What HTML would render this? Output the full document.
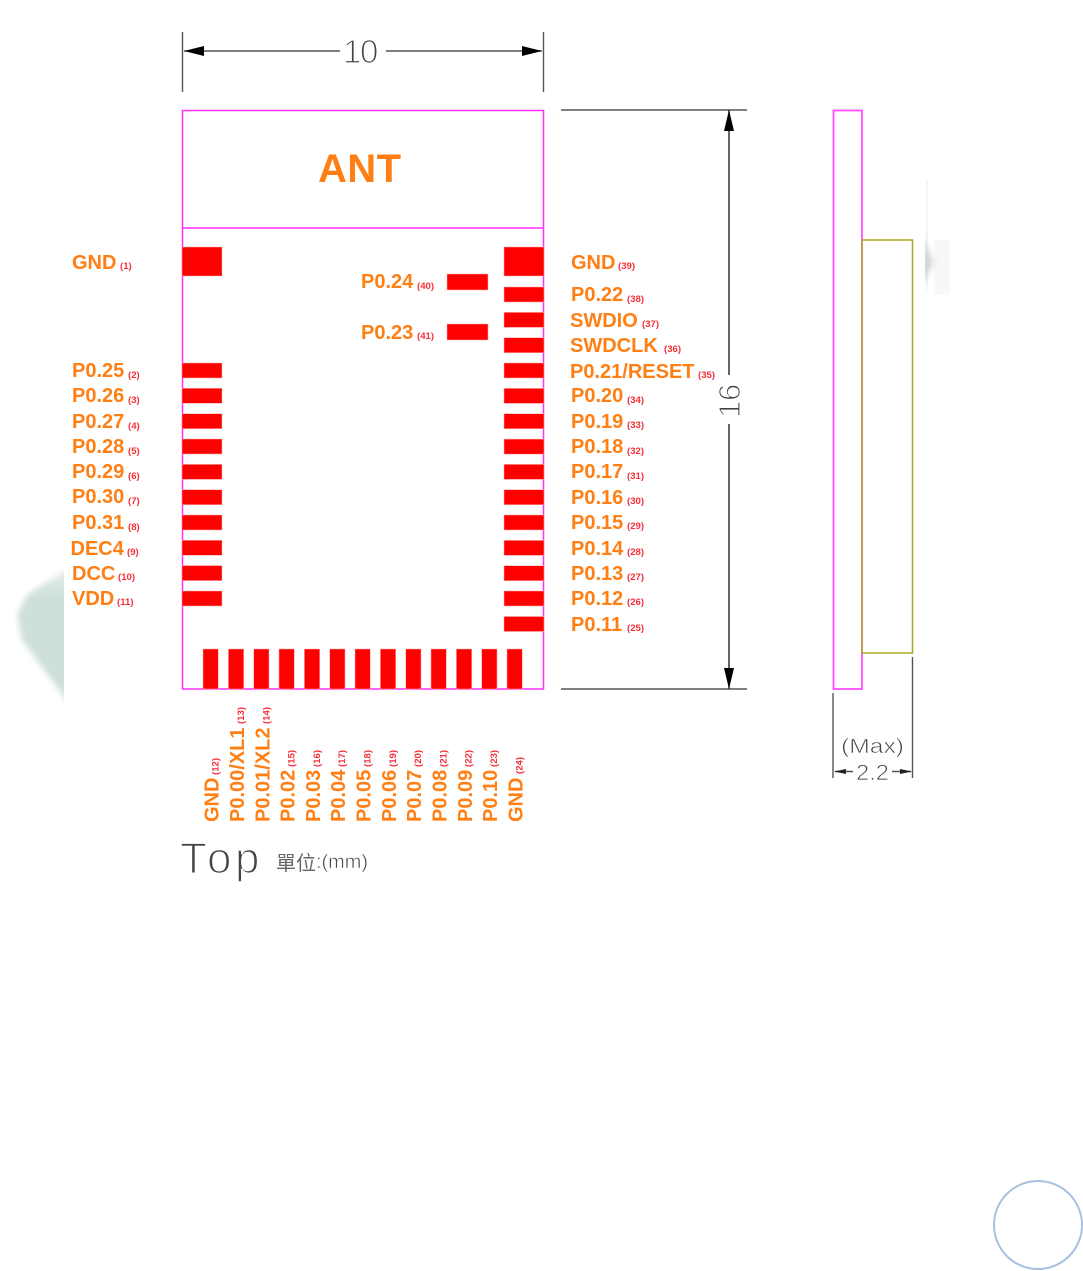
<!DOCTYPE html>
<html><head><meta charset="utf-8"><style>
html,body{margin:0;padding:0;background:#fff}
svg{display:block;filter:blur(.35px)}
.m{font:bold 20px "Liberation Sans",sans-serif;fill:#ff7f14}
.s{font:bold 9.6px "Liberation Sans",sans-serif;fill:#f5303a}
.t{font-family:"Liberation Sans",sans-serif;fill:#444;stroke:#fff;paint-order:normal}
.p{fill:#f00;stroke:#ffb0b0;stroke-width:.5}
.l{stroke:#555;stroke-width:1.4;fill:none}
</style></head><body>
<svg width="1083" height="1271" viewBox="0 0 1083 1271" xmlns="http://www.w3.org/2000/svg">
<defs><filter id="b" x="-30%" y="-30%" width="160%" height="160%"><feGaussianBlur stdDeviation="3"/></filter>
<linearGradient id="g1" x1="0" y1="0" x2="0" y2="1"><stop offset="0" stop-color="#e6efec"/><stop offset=".2" stop-color="#cfe0da"/><stop offset="1" stop-color="#cfe0da"/></linearGradient>
<clipPath id="c1"><rect x="0" y="540" width="64" height="200"/></clipPath>
<clipPath id="c2"><rect x="925" y="170" width="40" height="150"/></clipPath></defs>
<g clip-path="url(#c1)"><polygon points="70,568 28,594 17,615 22,640 50,678 70,705" fill="url(#g1)" filter="url(#b)"/></g>
<g clip-path="url(#c2)"><rect x="926" y="180" width="2" height="110" fill="#f6f6f6"/><rect x="934" y="240" width="16" height="55" fill="#f8f8f8"/><polygon points="920,232 934,262 920,290" fill="#d6d6d6" filter="url(#b)"/></g>

<!-- dimension lines -->
<path class="l" d="M182.500 32V92M543.500 32V92M184 51H340M386 51H542M561 110H747M561 689H747"/>
<path d="M729 110V375M729 424V689" stroke="#222" stroke-width="1.4" fill="none"/>
<path d="M184 51L204 46V56ZM542 51L522 46V56ZM729 110L724 131H734ZM729 689L724 668H734Z" fill="#000"/>
<path class="l" d="M833 693V778M912.500 657V778M835 771.500H853M892 771.500H911"/>
<path d="M834 771.500L846 769V774ZM912 771.500L900 769V774Z" fill="#222"/>

<!-- module outlines -->
<rect x="182.500" y="110.500" width="361" height="578.500" fill="none" stroke="#ff30ff" stroke-width="1.500"/>
<path d="M182 228H544" stroke="#ff30ff" stroke-width="1.500"/>
<rect x="833.500" y="110.500" width="28.500" height="578.500" fill="none" stroke="#ff44ff" stroke-width="1.700"/>
<rect x="862" y="240" width="50.500" height="413" fill="none" stroke="#aca820" stroke-width="1.500"/>

<!-- left pads -->
<rect class="p" x="182" y="247" width="40" height="29"/>
<rect class="p" x="182" y="363" width="40" height="15"/>
<rect class="p" x="182" y="388.300" width="40" height="15"/>
<rect class="p" x="182" y="413.700" width="40" height="15"/>
<rect class="p" x="182" y="439" width="40" height="15"/>
<rect class="p" x="182" y="464.400" width="40" height="15"/>
<rect class="p" x="182" y="489.700" width="40" height="15"/>
<rect class="p" x="182" y="515" width="40" height="15"/>
<rect class="p" x="182" y="540.300" width="40" height="15"/>
<rect class="p" x="182" y="565.600" width="40" height="15"/>
<rect class="p" x="182" y="591" width="40" height="15"/>
<!-- right pads -->
<rect class="p" x="504" y="247" width="40" height="29"/>
<rect class="p" x="504" y="287" width="40" height="15"/>
<rect class="p" x="504" y="312.400" width="40" height="15"/>
<rect class="p" x="504" y="337.700" width="40" height="15"/>
<rect class="p" x="504" y="363" width="40" height="15"/>
<rect class="p" x="504" y="388.400" width="40" height="15"/>
<rect class="p" x="504" y="413.700" width="40" height="15"/>
<rect class="p" x="504" y="439.100" width="40" height="15"/>
<rect class="p" x="504" y="464.400" width="40" height="15"/>
<rect class="p" x="504" y="489.700" width="40" height="15"/>
<rect class="p" x="504" y="515" width="40" height="15"/>
<rect class="p" x="504" y="540.400" width="40" height="15"/>
<rect class="p" x="504" y="565.700" width="40" height="15"/>
<rect class="p" x="504" y="591" width="40" height="15"/>
<rect class="p" x="504" y="616.500" width="40" height="15"/>
<!-- inner pads -->
<rect class="p" x="447" y="274" width="41" height="16"/>
<rect class="p" x="447" y="324" width="41" height="16"/>
<!-- bottom pads -->
<rect class="p" x="203" y="649" width="15.300" height="40"/>
<rect class="p" x="228.400" y="649" width="15.300" height="40"/>
<rect class="p" x="253.700" y="649" width="15.300" height="40"/>
<rect class="p" x="279" y="649" width="15.300" height="40"/>
<rect class="p" x="304.400" y="649" width="15.300" height="40"/>
<rect class="p" x="329.700" y="649" width="15.300" height="40"/>
<rect class="p" x="355" y="649" width="15.300" height="40"/>
<rect class="p" x="380.400" y="649" width="15.300" height="40"/>
<rect class="p" x="405.700" y="649" width="15.300" height="40"/>
<rect class="p" x="431" y="649" width="15.300" height="40"/>
<rect class="p" x="456.400" y="649" width="15.300" height="40"/>
<rect class="p" x="481.700" y="649" width="15.300" height="40"/>
<rect class="p" x="507" y="649" width="15.300" height="40"/>

<text x="318" y="182" style="font:bold 40px 'Liberation Sans',sans-serif;fill:#ff7f14" textLength="83">ANT</text>

<!-- left labels -->
<text class="m" x="72" y="269">GND</text><text class="s" x="120" y="269">(1)</text>
<text class="m" x="72" y="377">P0.25</text><text class="s" x="128" y="378">(2)</text>
<text class="m" x="72" y="402">P0.26</text><text class="s" x="128" y="403">(3)</text>
<text class="m" x="72" y="428">P0.27</text><text class="s" x="128" y="429">(4)</text>
<text class="m" x="72" y="453">P0.28</text><text class="s" x="128" y="454">(5)</text>
<text class="m" x="72" y="478">P0.29</text><text class="s" x="128" y="479">(6)</text>
<text class="m" x="72" y="503">P0.30</text><text class="s" x="128" y="504">(7)</text>
<text class="m" x="72" y="529">P0.31</text><text class="s" x="128" y="530">(8)</text>
<text class="m" x="70.500" y="555">DEC4</text><text class="s" x="127" y="555">(9)</text>
<text class="m" x="72" y="580">DCC</text><text class="s" x="118" y="580">(10)</text>
<text class="m" x="72" y="605">VDD</text><text class="s" x="117" y="605">(11)</text>

<!-- right labels -->
<text class="m" x="571" y="269">GND</text><text class="s" x="618" y="269">(39)</text>
<text class="m" x="571" y="301">P0.22</text><text class="s" x="627" y="302">(38)</text>
<text class="m" x="570" y="327">SWDIO</text><text class="s" x="642" y="327">(37)</text>
<text class="m" x="570" y="352">SWDCLK</text><text class="s" x="664" y="352">(36)</text>
<text class="m" x="570" y="378">P0.21/RESET</text><text class="s" x="698" y="378">(35)</text>
<text class="m" x="571" y="402">P0.20</text><text class="s" x="627" y="403">(34)</text>
<text class="m" x="571" y="428">P0.19</text><text class="s" x="627" y="428">(33)</text>
<text class="m" x="571" y="453">P0.18</text><text class="s" x="627" y="454">(32)</text>
<text class="m" x="571" y="478">P0.17</text><text class="s" x="627" y="479">(31)</text>
<text class="m" x="571" y="504">P0.16</text><text class="s" x="627" y="504">(30)</text>
<text class="m" x="571" y="529">P0.15</text><text class="s" x="627" y="529">(29)</text>
<text class="m" x="571" y="555">P0.14</text><text class="s" x="627" y="555">(28)</text>
<text class="m" x="571" y="580">P0.13</text><text class="s" x="627" y="580">(27)</text>
<text class="m" x="571" y="605">P0.12</text><text class="s" x="627" y="605">(26)</text>
<text class="m" x="571" y="631">P0.11</text><text class="s" x="627" y="631">(25)</text>

<!-- inner labels -->
<text class="m" x="361" y="288">P0.24</text><text class="s" x="417" y="289">(40)</text>
<text class="m" x="361" y="339">P0.23</text><text class="s" x="417" y="339">(41)</text>

<!-- bottom labels -->
<text class="m" transform="translate(218.500 822) rotate(-90)">GND</text><text class="s" transform="translate(218.500 775) rotate(-90)">(12)</text>
<text class="m" transform="translate(244 822) rotate(-90)">P0.00/XL1</text><text class="s" transform="translate(244 724) rotate(-90)">(13)</text>
<text class="m" transform="translate(269.500 822) rotate(-90)">P0.01/XL2</text><text class="s" transform="translate(269.500 724) rotate(-90)">(14)</text>
<text class="m" transform="translate(294.500 822) rotate(-90)">P0.02</text><text class="s" transform="translate(294.500 767) rotate(-90)">(15)</text>
<text class="m" transform="translate(320 822) rotate(-90)">P0.03</text><text class="s" transform="translate(320 767) rotate(-90)">(16)</text>
<text class="m" transform="translate(345 822) rotate(-90)">P0.04</text><text class="s" transform="translate(345 767) rotate(-90)">(17)</text>
<text class="m" transform="translate(370.500 822) rotate(-90)">P0.05</text><text class="s" transform="translate(370.500 767) rotate(-90)">(18)</text>
<text class="m" transform="translate(396 822) rotate(-90)">P0.06</text><text class="s" transform="translate(396 767) rotate(-90)">(19)</text>
<text class="m" transform="translate(421 822) rotate(-90)">P0.07</text><text class="s" transform="translate(421 767) rotate(-90)">(20)</text>
<text class="m" transform="translate(446.500 822) rotate(-90)">P0.08</text><text class="s" transform="translate(446.500 767) rotate(-90)">(21)</text>
<text class="m" transform="translate(472 822) rotate(-90)">P0.09</text><text class="s" transform="translate(471.500 767) rotate(-90)">(22)</text>
<text class="m" transform="translate(497 822) rotate(-90)">P0.10</text><text class="s" transform="translate(497 767) rotate(-90)">(23)</text>
<text class="m" transform="translate(522.500 822) rotate(-90)">GND</text><text class="s" transform="translate(522.500 774) rotate(-90)">(24)</text>

<!-- thin dimension text -->
<text class="t" x="343 360" y="63" font-size="33" stroke-width="1.200">10</text>
<text class="t" x="-3 14" transform="translate(740 415) rotate(-90)" font-size="31" stroke-width="1.200">16</text>
<text class="t" x="841" y="753" font-size="20" stroke-width=".6" textLength="63" lengthAdjust="spacingAndGlyphs">(Max)</text>
<text class="t" x="856" y="780" font-size="22" stroke-width=".7" textLength="33" lengthAdjust="spacingAndGlyphs">2.2</text>
<text class="t" x="180 207 235" y="873" font-size="44" stroke-width="1.500">Top</text>
<text x="276" y="870" font-size="20" fill="#666" font-family="'Liberation Sans','Noto Sans CJK TC',sans-serif">單位</text>
<text class="t" x="316" y="868" font-size="19" stroke-width=".5" textLength="52" lengthAdjust="spacingAndGlyphs">:(mm)</text>

<circle cx="1038" cy="1225" r="44" fill="#fff" stroke="#a6c1e3" stroke-width="2"/>
</svg>
</body></html>
